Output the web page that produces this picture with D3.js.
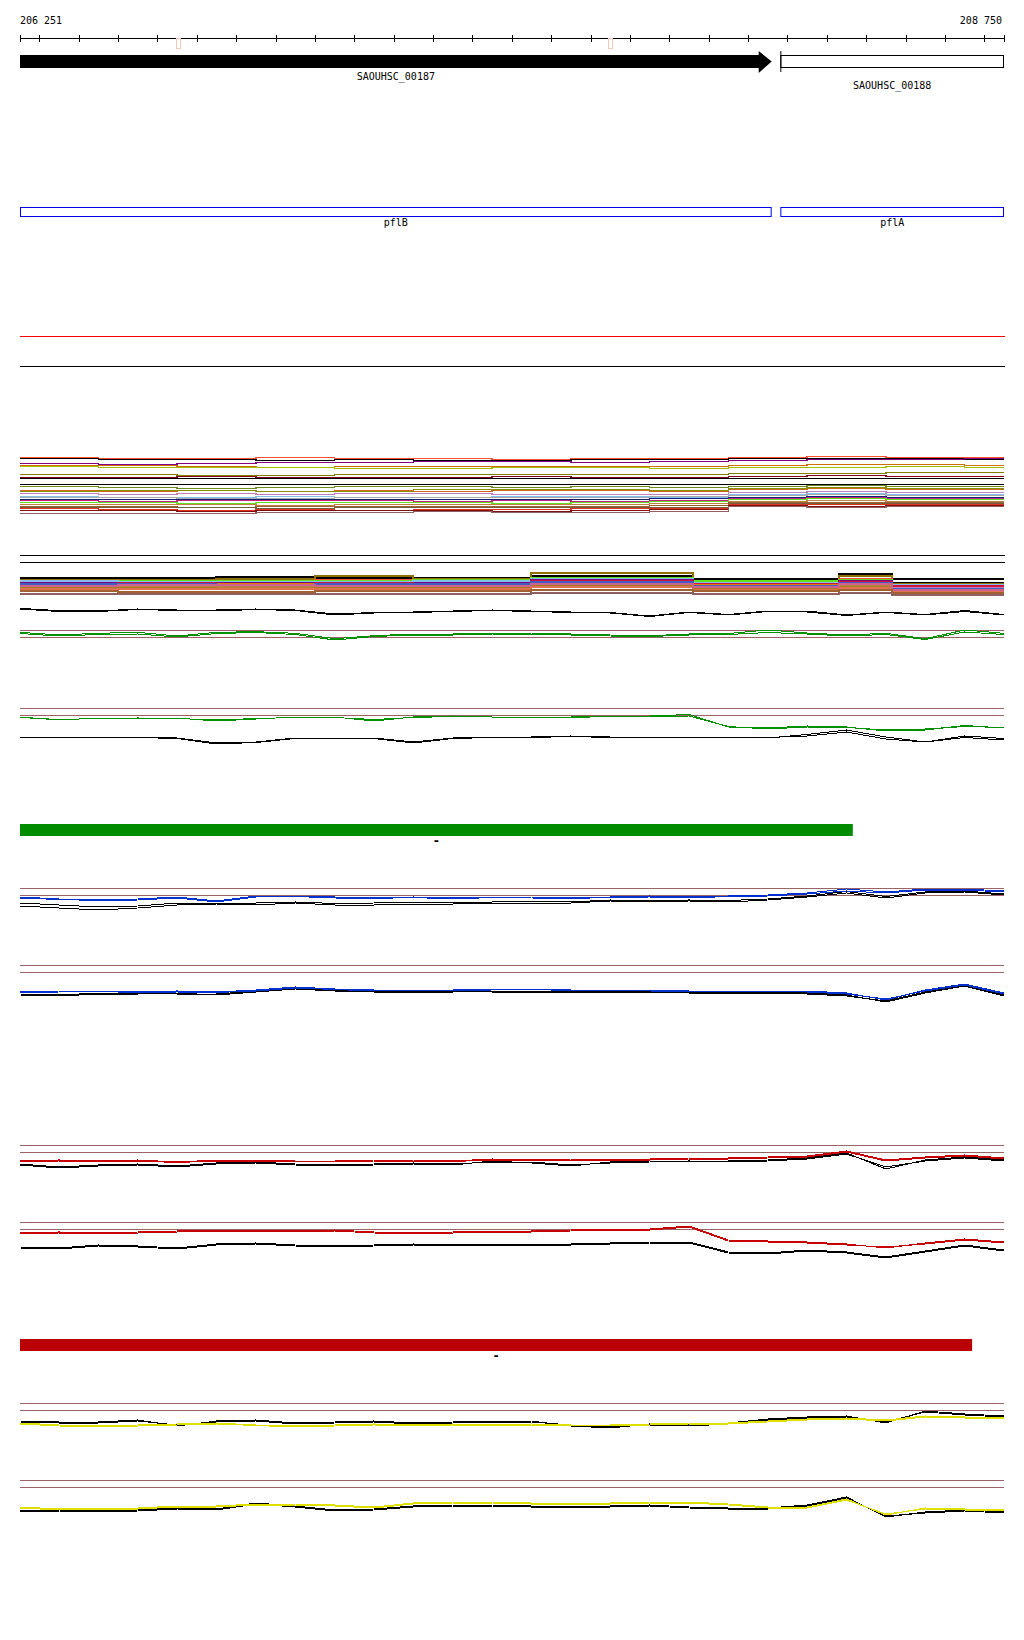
<!DOCTYPE html>
<html>
<head>
<meta charset="utf-8">
<script src="https://d3js.org/d3.v7.min.js"></script>
<title>SAOUHSC_00187 region</title>
<style>
body { margin:0; background:#fff; }
text { font-family:"DejaVu Sans Mono", monospace; font-size:10px; fill:#000; }
</style>
</head>
<body>
<div id="chart"></div>
<script>
(function(){

// ---- data ----
var startBp = 206251, endBp = 208750;
var tickBp = d3.range(206300, 208750, 100).concat([startBp, endBp]);
var markBp = [206648, 207744];

var genes = [
  {name:"SAOUHSC_00187", start:206251, end:208160, strand:"+"},
  {name:"SAOUHSC_00188", start:208182, end:208750, strand:"?"}
];
var geneNames = [
  {name:"pflB", start:206251, end:208160},
  {name:"pflA", start:208182, end:208750}
];
var operons = [
  {name:"-", start:206251, end:208366, color:"#008c00"},
  {name:"-", start:206251, end:208669, color:"#bb0000"}
];

// probe positions for the line tracks (every 100 bp)
var linePos = [206251, 206350, 206450, 206550, 206650, 206750, 206850, 206950, 207050, 207150,
  207250, 207350, 207450, 207550, 207650, 207750, 207850, 207950, 208050, 208150,
  208250, 208350, 208450, 208550, 208650, 208750];

// green tracks
var g1Black1 = [71.7, 69.3, 69, 71, 70, 70, 71, 70, 66, 67.5, 68, 69, 70, 69, 68, 67.5, 64, 68, 65.5, 69, 69, 65, 68, 65.5, 69.5, 65.5];
var g1Black2 = [71, 68.5, 68.5, 70.5, 69.5, 69, 70.5, 69.5, 65, 67, 67.5, 68.5, 69.5, 68.5, 67.5, 67, 63.5, 67.5, 65, 68.5, 68, 64.5, 67.5, 65, 68.5, 65];
var g1Green1 = [47.7, 45, 46.7, 47.7, 44, 47.7, 48.3, 46.7, 41.3, 44.3, 46, 46, 47, 47, 46, 45, 44.3, 46, 46.5, 50, 47, 45, 46.7, 41.3, 50, 46.7];
var g1Green2 = [46.5, 44, 45.5, 46, 43, 46.5, 47.5, 45.5, 40, 43.5, 45, 45, 46, 45.5, 45, 44, 43.5, 45, 45.5, 47.5, 46, 44, 45.5, 40.5, 48, 45.5];
var g2Green1 = [41, 38, 40, 40, 40, 37, 39, 41, 41, 37, 41, 42, 41, 41, 41, 42, 42, 43.5, 31, 30, 32, 31, 27, 28, 32.5, 30];
var g2Green2 = [40.5, 38.5, 39.5, 40, 39.5, 38, 39.5, 40.5, 40.5, 38.5, 40.5, 41.5, 41, 40.5, 40.5, 41.5, 41.5, 42, 31.5, 29, 31, 30.5, 28, 29, 31.5, 30.5];
var g2Black1 = [21, 20, 21, 21, 20, 15, 16, 20, 20, 20, 16, 20, 21, 21, 22, 21, 21, 21, 21, 20, 23.5, 28, 21, 16, 22, 19.5];
var g2Black2 = [20.5, 20.5, 20.5, 20.5, 19.5, 14, 15.5, 19.5, 19.5, 19.5, 15, 19.5, 20.5, 20.5, 21.5, 20.5, 20.5, 20.5, 20, 20.5, 22, 26, 19, 16, 20.5, 18];

// blue tracks
var b1Blue1 = [41, 39, 38, 39, 41, 37, 42, 42, 41, 40, 41, 40, 41, 41, 40, 41, 42, 41, 42, 43, 45, 49, 46, 49, 49, 47];
var b1Blue2 = [40, 38.5, 37.5, 38, 40, 36, 41, 41.5, 40, 39.5, 40.5, 39, 40.5, 40, 39.5, 40.5, 41, 40, 41.5, 42, 44, 47, 45, 48, 48, 46];
var b1Black1 = [32, 30, 28, 30, 33, 34, 33, 35, 33, 33, 34, 34, 35, 35, 35, 37, 36, 37, 36, 38, 41, 45, 40, 45, 46, 43];
var b1Black2 = [35, 33, 31, 32, 35, 35, 35, 36, 34.5, 35, 35.5, 35, 36, 36.5, 36, 38, 37, 38, 37.5, 39, 42, 46.5, 41.5, 46, 47, 44];
var b2Blue1 = [23, 24, 24, 23, 24, 23, 25, 28, 26, 25, 25, 25, 26, 26, 25, 25, 25, 24, 24, 24, 24, 22, 15, 25, 31, 22];
var b2Blue2 = [22.5, 23, 23.5, 22.5, 23, 22.5, 24, 27, 25.5, 24, 24.5, 24.5, 25, 25.5, 24.5, 24.5, 24, 23.5, 23.5, 23, 23, 21, 16, 24, 30, 21];
var b2Black1 = [20, 19, 21, 21, 22, 20, 23, 26, 24, 23, 23, 23, 24, 24, 24, 24, 24, 23, 23, 23, 22, 20, 13, 22, 29, 19];
var b2Black2 = [21, 20, 22, 22, 21, 21, 24, 27, 25, 24, 24, 24, 23, 23, 23, 23, 23, 22, 22, 22, 21, 19, 14, 23, 30, 20];

// red tracks
var r1Red1 = [34, 35, 34, 35, 33, 35, 35, 34, 34, 35, 35, 34, 36, 35, 36, 36, 36, 37, 37, 38, 39, 44, 35, 38, 40, 37];
var r1Red2 = [33, 34, 33.5, 34, 32.5, 34, 34, 33.5, 33, 34, 34, 33.5, 35, 34.5, 35, 35, 35, 36, 36, 37, 38, 43, 34, 37, 39, 36];
var r1Black1 = [30, 27, 29, 30, 28, 31, 32, 30, 29, 30, 31, 30, 34, 32, 29, 33, 34, 33, 34, 35, 37, 42, 26, 35, 38, 35];
var r1Black2 = [31, 28, 30, 31, 29, 32, 33, 31, 30, 31, 32, 31, 33, 33, 30, 32, 33, 34, 33, 34, 36, 41, 28, 34, 37, 34];
var r2Red1 = [39, 40, 39, 40, 41, 42, 42, 41, 42, 40, 39, 40, 41, 41, 42, 43, 43, 46, 32, 31, 30, 28, 24, 29, 33, 30];
var r2Red2 = [38, 39, 38.5, 39, 40, 41, 41, 40, 41, 39, 38.5, 39, 40, 40, 41, 42, 42, 45, 31, 30, 29, 27, 25, 28, 32, 29];
var r2Black1 = [25, 24, 27, 26, 24, 28, 29, 27, 26, 27, 28, 27, 28, 28, 28, 29, 30, 30, 20, 19, 22, 20, 15, 21, 27, 22];
var r2Black2 = [24, 23, 26, 25, 23, 27, 28, 26, 25, 26, 27, 26, 27, 27, 27, 28, 29, 29, 19, 18, 21, 19, 14, 20, 26, 21];

// yellow tracks
var y1Yellow1 = [30, 28, 27, 28, 29, 30, 28, 27, 28, 29, 28, 29, 28, 29, 28, 28, 29, 30, 30, 32, 34, 35, 33, 37, 36, 35];
var y1Yellow2 = [29, 27, 26.5, 27, 28, 29, 27.5, 26, 27, 28, 27, 28, 27.5, 28, 27.5, 27, 28, 29, 29, 31, 33, 34, 32, 36, 35, 34];
var y1Black1 = [32, 31, 31, 33, 27, 32, 33, 30, 31, 32, 30, 31, 32, 32, 27, 25, 29, 28, 30, 34, 36, 37, 30, 42, 39, 37];
var y1Black2 = [31, 30, 30, 32, 28, 31, 32, 29, 30, 31, 29, 30, 31, 31, 28, 26, 28, 27, 29, 33, 35, 36, 31, 41, 38, 36];
var y2Yellow1 = [23, 21, 22, 22, 24, 24, 26, 26, 25, 23, 27, 28, 28, 27, 27, 27, 28, 28, 26, 23, 23, 31, 15, 22, 21, 21];
var y2Yellow2 = [22, 20, 21, 21, 23, 23, 25, 25, 24, 22, 26, 27, 27, 26, 26, 26, 27, 27, 25, 22, 22, 30, 16, 21, 20, 20];
var y2Black1 = [20, 20, 19, 20, 22, 21, 27, 24, 20, 21, 24, 25, 25, 24, 24, 24, 25, 23, 22, 22, 25, 33, 13, 18, 20, 18];
var y2Black2 = [19, 19, 18, 19, 21, 20, 26, 23, 19, 20, 23, 24, 24, 23, 23, 23, 24, 22, 21, 21, 24, 32, 14, 17, 19, 17];

// multi-condition band A (step values at stepPosA)
var stepPosA = [206251, 206450, 206650, 206850, 207050, 207250, 207450, 207650, 207850, 208050, 208250, 208450, 208650, 208750];
var bandAColors = ["#ff5030","#000000","#800080","#d07000","#a0c000","#808000","#800020","#000000","#000000","#6b8e23",
  "#d2691e","#889000","#c080c0","#80c0f0","#a8a8a8","#102070","#c02080","#60e020","#c08040","#a06030",
  "#706040","#e03020","#801010","#906060"];
var bandAValues = [
  [58, 57, 57, 58, 57, 57, 56, 57, 57, 58, 59, 58, 58, 58],
  [57, 56, 56, 55, 56, 55, 55, 56, 56, 57, 57, 57, 56, 56],
  [52, 51, 52, 53, 53, 54, 54, 53, 54, 55, 56, 56, 57, 57],
  [50, 50, 49, 48, 49, 49, 49, 49, 49, 50, 51, 51, 50, 50],
  [49, 48, 48, 48, 47, 47, 48, 48, 47, 48, 48, 49, 48, 48],
  [41, 41, 40, 40, 41, 41, 41, 41, 41, 42, 42, 43, 43, 43],
  [38, 38, 39, 38, 38, 38, 39, 38, 38, 39, 40, 39, 39, 39],
  [37, 37, 37, 37, 37, 37, 37, 37, 37, 37, 37, 37, 37, 37],
  [31, 31, 31, 31, 31, 31, 31, 31, 31, 31, 31, 31, 31, 31],
  [29, 28, 27, 28, 29, 29, 28, 29, 28, 29, 30, 29, 29, 29],
  [25, 24, 25, 24, 25, 24, 25, 25, 24, 26, 27, 26, 26, 26],
  [24, 25, 25, 24, 24, 26, 26, 26, 25, 27, 28, 27, 27, 27],
  [22, 21, 22, 21, 22, 22, 21, 21, 21, 23, 24, 23, 23, 23],
  [19, 18, 18, 19, 18, 18, 19, 19, 18, 21, 22, 21, 21, 21],
  [18, 18, 17, 17, 18, 18, 18, 18, 19, 20, 21, 20, 20, 20],
  [16, 16, 16, 16, 16, 16, 16, 16, 17, 18, 19, 18, 18, 18],
  [15, 14, 15, 15, 15, 14, 15, 14, 15, 17, 18, 17, 17, 17],
  [13, 13, 12, 13, 13, 13, 12, 13, 14, 16, 17, 16, 16, 16],
  [11, 11, 11, 10, 11, 11, 11, 11, 12, 14, 15, 14, 14, 14],
  [9, 9, 8, 9, 9, 9, 9, 9, 10, 13, 13, 13, 13, 13],
  [8, 8, 8, 7, 8, 8, 8, 8, 8, 12, 12, 12, 12, 12],
  [7, 6, 5, 6, 5, 6, 6, 7, 7, 11, 11, 11, 11, 11],
  [5, 5, 4, 5, 5, 5, 4, 5, 6, 10, 9, 10, 10, 10],
  [2, 2, 2, 3, 3, 4, 3, 3, 4, 9, 8, 9, 9, 9]
];

// multi-condition band B (step values at stepPosB)
var stepPosB = [206251, 206500, 206750, 207000, 207250, 207550, 207960, 208330, 208465, 208750];
var bandBColors = ["#000000","#000000","#907000","#ff5030","#60e020","#80c0f0","#800080","#d01040",
  "#e08000","#c080c0","#a0c000","#c08040","#a08020","#e07050","#4060c0","#d06090","#a06030","#906060"];
var bandBValues = [
  [17, 17, 17, 17, 17, 17, 17, 17, 17, 17],
  [18, 18, 19, 19, 18, 20, 17, 22, 13, 13],
  [16, 16, 17, 20, 17, 23, 15, 20, 12, 12],
  [15, 15, 15, 16, 15, 18, 14, 17, 11, 11],
  [14, 15, 15, 15, 16, 18, 15, 16, 10, 10],
  [15, 14, 14, 14, 15, 17, 13, 15, 11, 11],
  [13, 13, 13, 13, 13, 16, 12, 15, 9, 9],
  [12, 13, 12, 13, 12, 15, 12, 14, 10, 10],
  [11, 11, 12, 11, 11, 14, 11, 13, 8, 8],
  [11, 10, 10, 11, 10, 13, 10, 12, 8, 8],
  [10, 9, 10, 10, 9, 12, 9, 11, 7, 7],
  [9, 9, 9, 8, 9, 11, 8, 10, 6, 6],
  [8, 8, 7, 8, 8, 10, 7, 9, 5, 5],
  [7, 7, 7, 7, 7, 9, 6, 8, 4, 4],
  [12, 12, 11, 12, 12, 14, 10, 13, 7, 7],
  [10, 11, 11, 10, 10, 12, 9, 12, 6, 6],
  [5, 4, 4, 5, 5, 6, 5, 6, 3, 3],
  [2, 2, 2, 2, 2, 3, 2, 3, 1, 1]
];

// ---- drawing ----
var w = 1024, h = 1640;
var svg = d3.select("#chart").append("svg")
  .attr("width", w).attr("height", h)
  .style("display", "block");

var x = d3.scaleLinear().domain([startBp, endBp]).range([20, 1004]);
var fmt = function(v){ return d3.format(",")(v).replace(",", " "); };

// ruler
svg.append("text").attr("x", 20).attr("y", 24).text(fmt(startBp));
svg.append("text").attr("x", 1002).attr("y", 24).attr("text-anchor", "end").text(fmt(endBp));
svg.append("line").attr("x1", x(startBp)).attr("x2", x(endBp))
  .attr("y1", 38.5).attr("y2", 38.5).attr("stroke", "#000");
svg.selectAll(".tick").data(tickBp).enter().append("line")
  .attr("x1", function(d){ return Math.round(x(d)) + 0.5; })
  .attr("x2", function(d){ return Math.round(x(d)) + 0.5; })
  .attr("y1", 35).attr("y2", 42).attr("stroke", "#000");
svg.selectAll(".mark").data(markBp).enter().append("rect")
  .attr("x", function(d){ return Math.round(x(d)) + 0.5; })
  .attr("y", 38.5).attr("width", 4).attr("height", 10)
  .attr("fill", "none").attr("stroke", "#f4c8bc");

// genes
genes.forEach(function(g){
  var x0 = x(g.start), x1 = x(g.end);
  if (g.strand == "+") {
    svg.append("path")
      .attr("d", "M" + x0 + ",55 L" + (x1 - 13) + ",55 L" + (x1 - 13) + ",51 L" + x1 + ",61.5 L" +
        (x1 - 13) + ",73 L" + (x1 - 13) + ",68 L" + x0 + ",68 Z")
      .attr("fill", "#000");
    svg.append("text").attr("x", (x0 + x1) / 2).attr("y", 80)
      .attr("text-anchor", "middle").text(g.name);
  } else {
    svg.append("rect").attr("x", x0 + 0.5).attr("y", 55.5)
      .attr("width", x1 - x0 - 1).attr("height", 12)
      .attr("fill", "#fff").attr("stroke", "#000");
    svg.append("line").attr("x1", x0 + 0.5).attr("x2", x0 + 0.5)
      .attr("y1", 51).attr("y2", 72).attr("stroke", "#000");
    svg.append("text").attr("x", (x0 + x1) / 2).attr("y", 89)
      .attr("text-anchor", "middle").text(g.name);
  }
});

geneNames.forEach(function(g){
  var x0 = x(g.start), x1 = x(g.end);
  svg.append("rect").attr("x", x0 + 0.5).attr("y", 207.5)
    .attr("width", x1 - x0 - 1).attr("height", 9)
    .attr("fill", "none").attr("stroke", "#0000e6");
  svg.append("text").attr("x", (x0 + x1) / 2).attr("y", 226)
    .attr("text-anchor", "middle").text(g.name);
});

// reference lines
[[336.5, "#ff0000"], [366.5, "#000"], [555.5, "#000"], [562.5, "#000"]].forEach(function(r){
  svg.append("line").attr("x1", 20).attr("x2", 1005)
    .attr("y1", r[0]).attr("y2", r[0]).attr("stroke", r[1]);
});

// bands
function drawBand(pos, colors, values, top, bottom, maxV, sw){
  var y = d3.scaleLinear().domain([0, maxV]).range([bottom, top]);
  var line = d3.line().curve(d3.curveStepAfter)
    .x(function(d, i){ return x(pos[i]); })
    .y(function(d){ return Math.round(y(d)) + 0.5; });
  svg.append("g").selectAll("path").data(values).enter().append("path")
    .attr("d", line)
    .attr("fill", "none")
    .attr("stroke", function(d, i){ return colors[i]; })
    .attr("stroke-width", sw)
    .attr("shape-rendering", "crispEdges");
}
drawBand(stepPosA, bandAColors, bandAValues, 455, 515, 60, 1.6);
drawBand(stepPosB, bandBColors, bandBValues, 570, 595, 25, 2);

// line panels: value 50 sits on the upper brown line, 1 unit per pixel
var brown = "#9a6464";
var panels = [
  {top:630, series:[[g1Black1,"#000"],[g1Black2,"#000"],[g1Green1,"#009000"],[g1Green2,"#009000"]]},
  {top:708, series:[[g2Black1,"#000"],[g2Black2,"#000"],[g2Green1,"#009000"],[g2Green2,"#009000"]]},
  {top:888, series:[[b1Black1,"#000"],[b1Black2,"#000"],[b1Blue1,"#0030d0"],[b1Blue2,"#0030d0"]]},
  {top:965, series:[[b2Black1,"#000"],[b2Black2,"#000"],[b2Blue1,"#0030d0"],[b2Blue2,"#0030d0"]]},
  {top:1145, series:[[r1Black1,"#000"],[r1Black2,"#000"],[r1Red1,"#c80000"],[r1Red2,"#c80000"]]},
  {top:1222, series:[[r2Black1,"#000"],[r2Black2,"#000"],[r2Red1,"#c80000"],[r2Red2,"#c80000"]]},
  {top:1403, series:[[y1Black1,"#000"],[y1Black2,"#000"],[y1Yellow1,"#e0e000"],[y1Yellow2,"#e0e000"]]},
  {top:1480, series:[[y2Black1,"#000"],[y2Black2,"#000"],[y2Yellow1,"#e0e000"],[y2Yellow2,"#e0e000"]]}
];
panels.forEach(function(p){
  var y = d3.scaleLinear().domain([0, 50]).range([p.top + 50, p.top]);
  [50, 43].forEach(function(t){
    svg.append("line").attr("x1", 20).attr("x2", 1004)
      .attr("y1", y(t) + 0.5).attr("y2", y(t) + 0.5).attr("stroke", brown);
  });
  var line = d3.line()
    .x(function(d, i){ return x(linePos[i]); })
    .y(function(d){ return y(d); });
  p.series.forEach(function(s){
    svg.append("path").attr("d", line(s[0]))
      .attr("fill", "none").attr("stroke", s[1]).attr("stroke-width", 1)
      .attr("shape-rendering", "crispEdges");
  });
});

// transcription units
operons.forEach(function(o, i){
  var yTop = i == 0 ? 824 : 1339;
  svg.append("rect").attr("x", x(o.start)).attr("y", yTop)
    .attr("width", x(o.end) - x(o.start)).attr("height", 12)
    .attr("fill", o.color);
  svg.append("text").attr("x", (x(o.start) + x(o.end)) / 2).attr("y", yTop + 21)
    .attr("text-anchor", "middle").style("font-size", "12px").style("font-weight", "bold")
    .text(o.name);
});

})();
</script>
</body>
</html>
